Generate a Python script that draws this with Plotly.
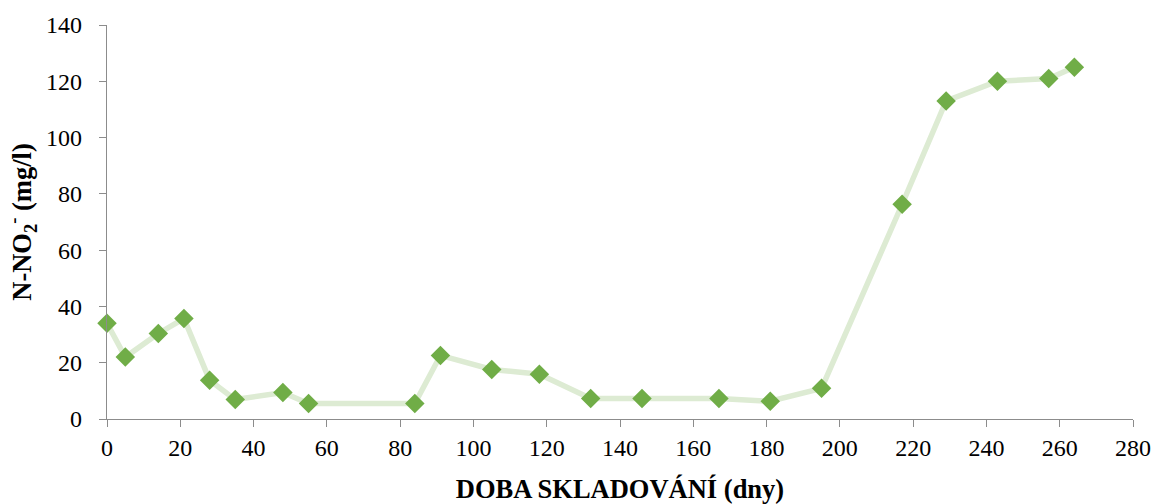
import plotly.graph_objects as go

days = [0, 5, 14, 21, 28, 35, 48, 55, 84, 91, 105, 118, 132, 146, 167, 181, 195, 217, 229, 243, 257, 264]
no2 = [34, 22, 30.4, 35.7, 13.8, 6.9, 9.4, 5.5, 5.5, 22.6, 17.6, 15.9, 7.3, 7.3, 7.3, 6.3, 10.9, 76.3, 113, 120, 121, 125]

x_ticks = list(range(0, 281, 20))
y_ticks = list(range(0, 141, 20))

font_family = "Liberation Serif"

fig = go.Figure()
fig.add_trace(go.Scatter(
    x=days, y=no2, mode="lines+markers",
    line=dict(color="#DDEBD3", width=5.5),
    marker=dict(symbol="diamond", size=15, color="#70AD47", line=dict(width=0)),
    showlegend=False, cliponaxis=False,
))

axis_common = dict(
    showline=True, linecolor="#8C8C8C", linewidth=1.3,
    ticks="outside", ticklen=7, tickcolor="#8C8C8C", tickwidth=1.3,
    showgrid=False, zeroline=False, automargin=False,
    tickfont=dict(family=font_family, size=24, color="black"),
)

fig.update_layout(
    width=1156, height=504,
    margin=dict(l=107, r=23, t=25, b=85),
    paper_bgcolor="white", plot_bgcolor="white",
    font=dict(family=font_family, color="black"),
    xaxis=dict(range=[0, 280], tickvals=x_ticks, **axis_common,
               title=dict(text="<b>DOBA SKLADOVÁNÍ (dny)</b>",
                          font=dict(family=font_family, size=26.5, color="black"),
                          standoff=20)),
    yaxis=dict(range=[0, 140], tickvals=y_ticks, **axis_common,
               ticklabelstandoff=12,
               title=dict(text="<b>N-NO<sub>2</sub><sup>-</sup> (mg/l)</b>",
                          font=dict(family=font_family, size=26.5, color="black"),
                          standoff=6)),
)

fig.write_html("out.html", config={"displayModeBar": False},
               post_script="document.body.style.margin='0';document.body.style.overflow='hidden';")
